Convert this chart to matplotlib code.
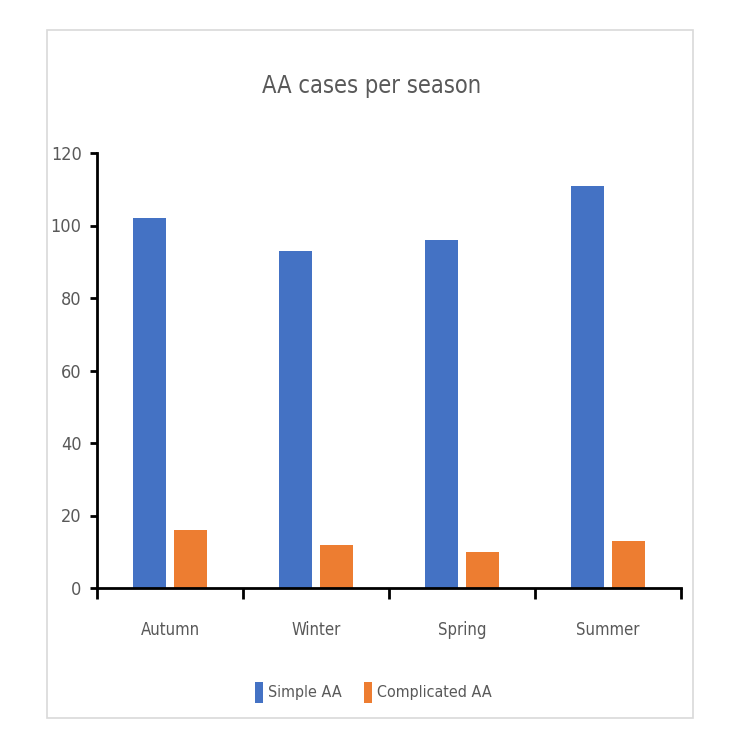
import numpy as np
import matplotlib
matplotlib.use("Agg")
import matplotlib.pyplot as plt
from matplotlib.patches import Rectangle

plt.rcParams['font.family'] = ['DejaVu Sans']
plt.rcParams['font.stretch'] = 'condensed'

# datos
seasons = ['Autumn', 'Winter', 'Spring', 'Summer']
simple_aa = [102, 93, 96, 111]
complicated_aa = [16, 12, 10, 13]
y_ticks = [0, 20, 40, 60, 80, 100, 120]

blue = '#4472c4'
orange = '#ed7d31'
gray = '#595959'

fig = plt.figure(figsize=(7.5, 7.5), dpi=100)
fig.patches.append(Rectangle((0.063, 0.043), 0.861, 0.917, transform=fig.transFigure,
                             fill=False, ec='#d9d9d9', lw=1.2))

ax = fig.add_axes([0.1293, 0.216, 0.7787, 0.58])
x = np.arange(len(seasons))
w = 0.226
ax.bar(x - 0.14, simple_aa, w, color=blue, label='Simple AA')
ax.bar(x + 0.14, complicated_aa, w, color=orange, label='Complicated AA')

ax.set_xlim(-0.5, len(seasons) - 0.5)
ax.set_ylim(0, 120)
ax.set_yticks(y_ticks)
ax.set_xticks(x)
ax.set_xticklabels(seasons)
ax.set_xticks(np.arange(-0.5, len(seasons)), minor=True)
ax.tick_params(axis='x', which='major', length=0, pad=24, labelsize=12, labelcolor=gray)
ax.tick_params(axis='x', which='minor', length=8, width=2, direction='out')
ax.tick_params(axis='y', length=5, width=2, labelsize=13, labelcolor=gray, pad=6)

for s in ['top', 'right']:
    ax.spines[s].set_visible(False)
for s in ['left', 'bottom']:
    ax.spines[s].set_linewidth(2)

fig.text(0.495, 0.886, 'AA cases per season', ha='center', va='center', fontsize=17, color=gray)
fig.legend(loc='center', bbox_to_anchor=(0.498, 0.077), ncol=2, frameon=False,
           fontsize=11.5, handlelength=0.5, handleheight=1.6, handletextpad=0.3,
           columnspacing=1.4, labelcolor=gray)

fig.savefig('out.png', dpi=100)
